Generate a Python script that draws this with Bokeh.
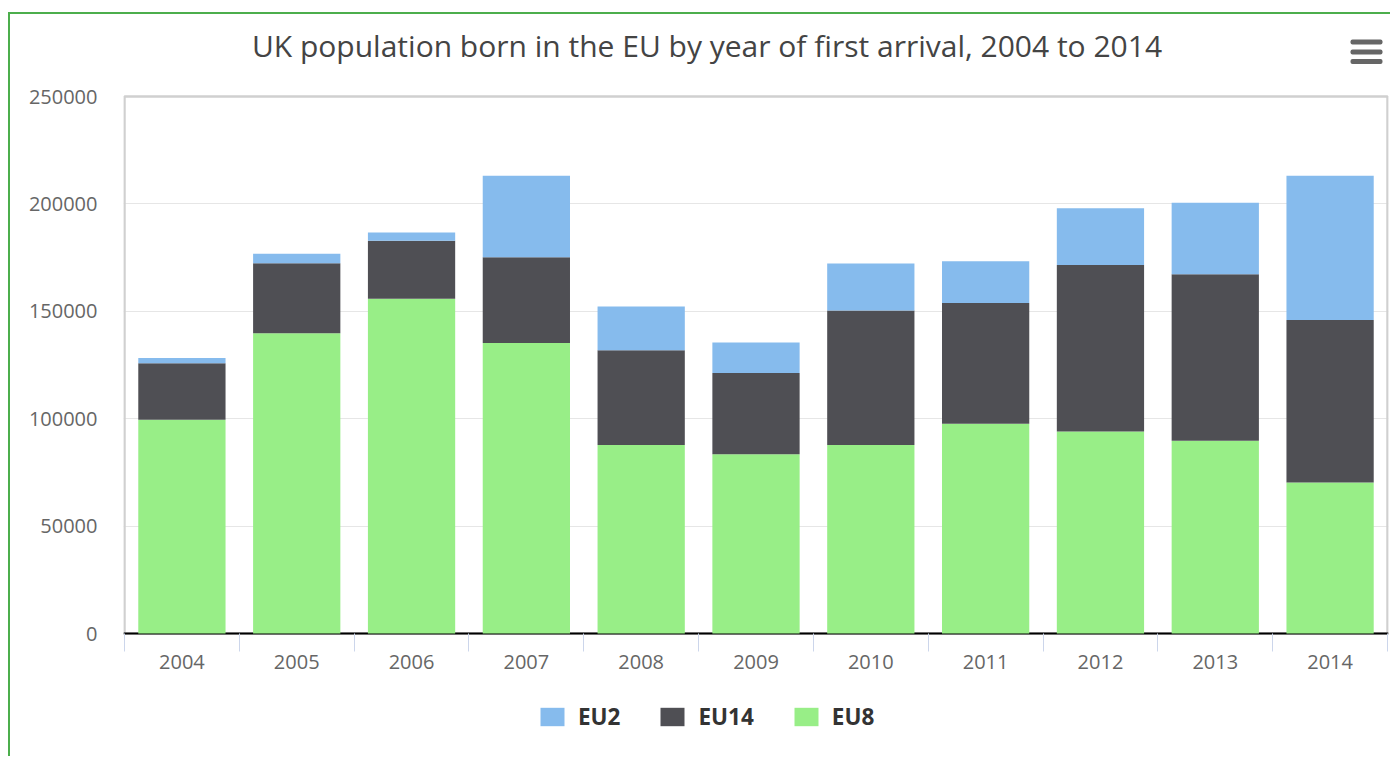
from bokeh.plotting import figure
from bokeh.models import (ColumnDataSource, Range1d, FixedTicker, NumeralTickFormatter,
                          Legend, LegendItem, Span, Label, BoxAnnotation)
from bokeh.embed import file_html
from bokeh.resources import INLINE

years = [2004, 2005, 2006, 2007, 2008, 2009, 2010, 2011, 2012, 2013, 2014]
eu8 = [99500, 139800, 155800, 135300, 87800, 83500, 87800, 97600, 94000, 89700, 70300]
eu14 = [26300, 32600, 27100, 39900, 44100, 37800, 62600, 56300, 77600, 77600, 75700]
eu2 = [2500, 4400, 3800, 37900, 20300, 14200, 21800, 19400, 26400, 33200, 67100]
y_ticks = [0, 50000, 100000, 150000, 200000, 250000]
title_text = "UK population born in the EU by year of first arrival, 2004 to 2014"

C_EU8 = "#98ee87"
C_EU14 = "#4f4f54"
C_EU2 = "#86bbed"
FONT = "Open Sans"

# layout (pixels)
W, H = 1382, 744
BORDER_L, BORDER_R = 113, 4
AREA_TOP, AREA_BOTTOM = 82, 619       # plot area inside the canvas (y)
PAD = 1                               # plot area inset from the frame (x)
n = len(years)
YMAX = y_ticks[-1]
ppu = (AREA_BOTTOM - AREA_TOP) / YMAX
y_range = Range1d(-(H - AREA_BOTTOM) / ppu, AREA_BOTTOM / ppu)
frame_w = W - BORDER_L - BORDER_R
cat_px = (frame_w - 2 * PAD) / n
d = PAD / cat_px
x_range = Range1d(-0.5 - d, n - 0.5 + d)

xs = list(range(n))
src = ColumnDataSource(dict(x=xs, EU8=eu8, EU14=eu14, EU2=eu2))

p = figure(width=W, height=H, output_backend="svg", toolbar_location=None,
           x_range=x_range, y_range=y_range,
           min_border_left=BORDER_L, min_border_right=BORDER_R, min_border_top=0, min_border_bottom=0,
           margin=(12, 0, 0, 8))
p.styles = {"border-top": "2px solid #4cae4c", "border-left": "2px solid #4cae4c"}
p.outline_line_color = None
p.background_fill_color = "white"
p.border_fill_color = "white"

# plot-area border (under the bars)
p.add_layout(BoxAnnotation(left=-0.5, right=n - 0.5, bottom=0, top=YMAX,
                           fill_alpha=0, fill_color=None, line_color="#d0d0d0",
                           line_width=2.5, line_alpha=1, level="underlay"))

baseline = Span(location=0, dimension="width", line_color="black", line_width=2, level="underlay")
p.add_layout(baseline)

rs = p.vbar_stack(["EU8", "EU14", "EU2"], x="x", width=0.76, source=src,
                  fill_color=[C_EU8, C_EU14, C_EU2], line_color=None)

# axes
p.xgrid.visible = False
p.ygrid.grid_line_color = "#e6e6e6"
p.ygrid.grid_line_width = 1
p.ygrid.ticker = FixedTicker(ticks=y_ticks)

xa = p.xaxis[0]
xa.fixed_location = 0
xa.ticker = FixedTicker(ticks=xs, minor_ticks=[i - 0.5 for i in range(n + 1)])
xa.major_label_overrides = {i: str(y) for i, y in zip(xs, years)}
xa.major_tick_line_color = None
xa.major_tick_out = 0
xa.minor_tick_line_color = "#ccd6eb"
xa.minor_tick_out = 18
xa.minor_tick_in = 0
xa.axis_line_color = None
xa.major_label_standoff = 3
xa.major_label_text_font = FONT
xa.major_label_text_font_size = "20px"
xa.major_label_text_color = "#666666"

ya = p.yaxis[0]
ya.ticker = FixedTicker(ticks=y_ticks)
ya.formatter = NumeralTickFormatter(format="0")
ya.axis_line_color = None
ya.major_tick_line_color = None
ya.minor_tick_line_color = None
ya.major_tick_out = 0
ya.major_label_standoff = 26
ya.major_label_text_font = FONT
ya.major_label_text_font_size = "20px"
ya.major_label_text_color = "#666666"

# title (screen units, measured from the plot frame's bottom-left)
p.add_layout(Label(x=583.5, y=713, x_units="screen", y_units="screen", text=title_text,
                   text_font=FONT, text_font_size="30px", text_color="#444444",
                   text_align="center", text_baseline="middle"))

# hamburger menu icon
for yc in [716.5, 706.5, 697]:
    p.add_layout(BoxAnnotation(left=1227, right=1259, bottom=yc - 2.5, top=yc + 2.5,
                               left_units="screen", right_units="screen",
                               bottom_units="screen", top_units="screen",
                               fill_color="#666666", fill_alpha=1, line_color=None,
                               border_radius=2))

legend = Legend(items=[LegendItem(label="EU2", renderers=[rs[2]]),
                       LegendItem(label="EU14", renderers=[rs[1]]),
                       LegendItem(label="EU8", renderers=[rs[0]])],
                location=(414, 26), orientation="horizontal",
                glyph_width=30, glyph_height=23, label_standoff=11, spacing=37,
                padding=0, margin=0, border_line_color=None, background_fill_alpha=0,
                label_text_font=FONT, label_text_font_size="22.5px",
                label_text_font_style="bold", label_text_color="#333333")
p.add_layout(legend)

open("out.html", "w").write(file_html(p, INLINE))
